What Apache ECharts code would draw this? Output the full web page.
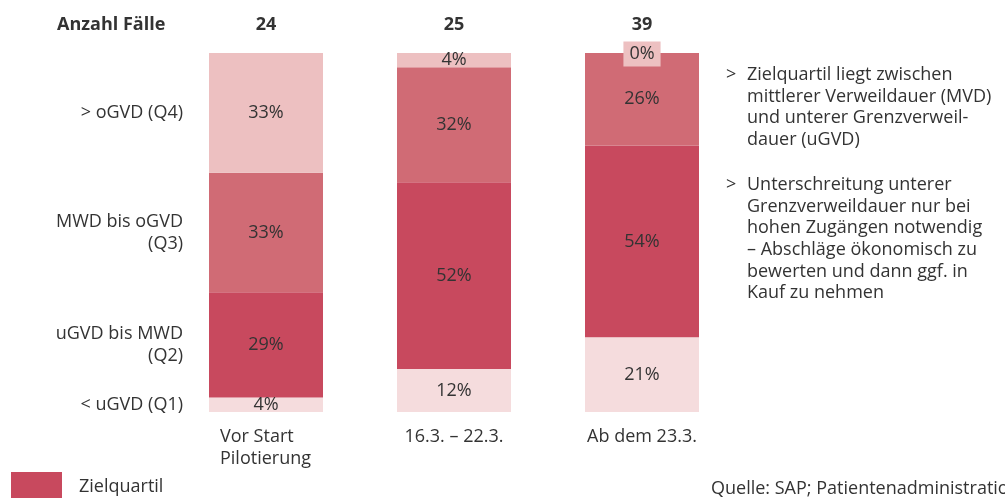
<!DOCTYPE html>
<html>
<head>
<meta charset="utf-8">
<script src="https://cdn.jsdelivr.net/npm/echarts@6/dist/echarts.min.js"></script>
<style>
  html, body { margin: 0; padding: 0; background: #fff; }
  #chart { width: 1005px; height: 498px; }
</style>
</head>
<body>
<div id="chart"></div>
<script>
// Daten aus der Grafik
var categories = ['Vor Start\nPilotierung', '16.3. – 22.3.', 'Ab dem 23.3.'];
var caseCounts = ['24', '25', '39'];
var seriesNames = ['< uGVD (Q1)', 'uGVD bis MWD\n(Q2)', 'MWD bis oGVD\n(Q3)', '> oGVD (Q4)'];
var q1 = [4, 12, 21];
var q2 = [29, 52, 54];
var q3 = [33, 32, 26];
var q4 = [33, 4, 0];

var colors = ['#f5dcdd', '#c8495e', '#d06b75', '#edc0c1'];
var textColor = '#333';
var font = 'Open Sans';
var fontSize = 18;

var pctRows = [q1, q2, q3, q4];
// Summe je Balken (Rundung ergibt nicht immer 100)
var totals = categories.map(function (c, i) {
  return q1[i] + q2[i] + q3[i] + q4[i];
});

function buildData(row, color) {
  return row.map(function (v, i) {
    var item = { value: v / totals[i] * 100, pct: v };
    if (v === 0) {
      item.label = { backgroundColor: color, padding: [4, 6, 3, 6], offset: [0, 1] };
    }
    return item;
  });
}

var series = pctRows.map(function (row, k) {
  return {
    name: seriesNames[k],
    type: 'bar',
    stack: 'all',
    barWidth: 114,
    clip: false,
    itemStyle: { color: colors[k] },
    label: {
      show: true,
      position: 'inside',
      color: textColor,
      fontFamily: font,
      fontSize: fontSize,
      formatter: function (p) { return p.data.pct + '%'; }
    },
    data: buildData(row, colors[k])
  };
});

var chart = echarts.init(document.getElementById('chart'));

var option = {
  animation: false,
  grid: { left: 172, right: 269, top: 53, bottom: 86 },
  legend: {
    data: [seriesNames[1]],
    left: 6,
    top: 467,
    itemWidth: 51,
    itemHeight: 30,
    icon: 'rect',
    selectedMode: false,
    formatter: function () { return 'Zielquartil'; },
    textStyle: { color: textColor, fontFamily: font, fontSize: fontSize, padding: [4, 0, 0, 12] }
  },
  xAxis: [{
    type: 'category',
    data: categories,
    axisLine: { show: false },
    axisTick: { show: false },
    axisLabel: {
      margin: 14,
      color: textColor,
      fontFamily: font,
      fontSize: fontSize,
      lineHeight: 22,
      formatter: function (v) {
        var parts = v.split('\n');
        if (parts.length < 2) return v;
        return parts.map(function (p) { return '{l|' + p + '}'; }).join('\n');
      },
      rich: {
        l: { width: 92, align: 'left', color: textColor, fontFamily: font, fontSize: fontSize, lineHeight: 22 }
      }
    }
  }, {
    type: 'category',
    position: 'top',
    data: caseCounts,
    axisLine: { show: false },
    axisTick: { show: false },
    axisLabel: {
      margin: 19,
      color: textColor,
      fontFamily: font,
      fontSize: fontSize,
      fontWeight: 'bold'
    }
  }],
  yAxis: {
    type: 'value',
    min: 0,
    max: 100,
    show: false
  },
  series: series
};

chart.setOption(option);

// Beschriftungen links an den Segmenten des ersten Balkens
var graphics = [];
var cum = 0;
pctRows.forEach(function (row, k) {
  var h = row[0] / totals[0] * 100;
  var y = chart.convertToPixel({ xAxisIndex: 0, yAxisIndex: 0 }, [0, cum + h / 2])[1];
  cum += h;
  graphics.push({
    type: 'text',
    x: 183,
    y: y,
    style: {
      text: seriesNames[k],
      align: 'right',
      verticalAlign: 'middle',
      fill: textColor,
      font: fontSize + 'px "' + font + '"',
      lineHeight: 22
    }
  });
});

graphics.push({
  type: 'text', x: 57, y: 25,
  style: { text: 'Anzahl Fälle', verticalAlign: 'middle', fill: textColor, font: 'bold ' + fontSize + 'px "' + font + '"' }
});

var notes = [
  { top: 64, text: 'Zielquartil liegt zwischen\nmittlerer Verweildauer (MVD)\nund unterer Grenzverweil-\ndauer (uGVD)' },
  { top: 174, text: 'Unterschreitung unterer\nGrenzverweildauer nur bei\nhohen Zugängen notwendig\n– Abschläge ökonomisch zu\nbewerten und dann ggf. in\nKauf zu nehmen' }
];
notes.forEach(function (n) {
  graphics.push({
    type: 'text', x: 726, y: n.top,
    style: { text: '>', verticalAlign: 'top', fill: textColor, font: fontSize + 'px "' + font + '"', lineHeight: 21.7 }
  });
  graphics.push({
    type: 'text', x: 747, y: n.top,
    style: { text: n.text, verticalAlign: 'top', fill: textColor, font: fontSize + 'px "' + font + '"', lineHeight: 21.7 }
  });
});

graphics.push({
  type: 'text', x: 711, y: 489,
  style: { text: 'Quelle: SAP; Patientenadministration', verticalAlign: 'middle', fill: textColor, font: fontSize + 'px "' + font + '"' }
});

chart.setOption({ graphic: graphics });
</script>
</body>
</html>
